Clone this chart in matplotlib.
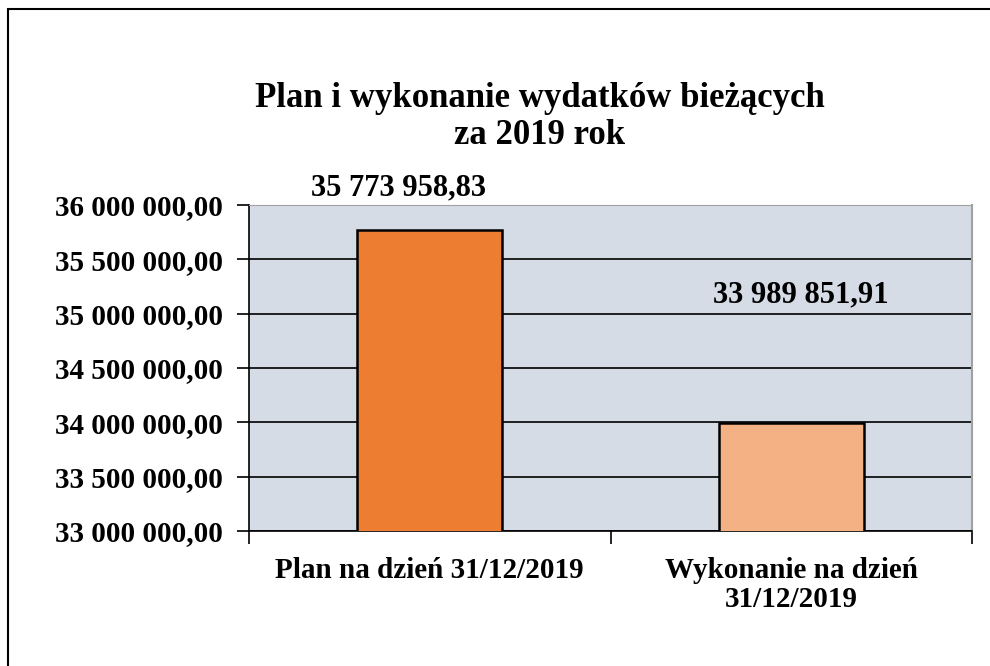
import matplotlib.pyplot as plt
from matplotlib.patches import Rectangle
from matplotlib.ticker import FuncFormatter

plt.rcParams['font.family'] = ['Liberation Serif', 'DejaVu Serif']
plt.rcParams['font.weight'] = 'bold'

categories = ['Plan na dzień 31/12/2019', 'Wykonanie na dzień\n31/12/2019']
values = [35773958.83, 33989851.91]
colors = ['#ED7D31', '#F4B183']
yticks = [33000000, 33500000, 34000000, 34500000, 35000000, 35500000, 36000000]


def pl_format(v, pos=None):
    s = '{:,.2f}'.format(v)
    return s.replace(',', ' ').replace('.', ',')


fig = plt.figure(figsize=(9.9, 6.66), dpi=100)
# outer frame (only top and left edges visible in the original)
fig.patches.append(Rectangle((8 / 990, -0.1), 1.2, 1 - 9 / 666 + 0.1,
                             transform=fig.transFigure, fill=False,
                             edgecolor='black', linewidth=1.5))

ax = fig.add_axes([249 / 990, 1 - 531 / 666, (972 - 249) / 990, (531 - 205) / 666])
ax.set_facecolor('#D6DCE5')

x = list(range(len(values)))
bars = ax.bar(x, values, width=0.4, color=colors, edgecolor='black', linewidth=1.8, zorder=3)

ax.set_ylim(33000000, 36000000)
ax.set_xlim(-0.5, 1.5)
ax.set_yticks(yticks)
ax.yaxis.set_major_formatter(FuncFormatter(pl_format))
ax.grid(axis='y', color='black', linewidth=1.2, zorder=1)
ax.set_axisbelow(True)

ax.set_xticks([-0.5, 0.5, 1.5])
ax.set_xticklabels([])
ax.set_xticks(x, minor=True)
ax.set_xticklabels(categories, minor=True, fontsize=21, fontweight='bold', linespacing=1.1)
ax.tick_params(axis='x', which='minor', length=0, pad=19)
ax.tick_params(axis='x', which='major', length=9, width=1.2, direction='out')
ax.tick_params(axis='y', length=9, width=1.2, direction='out', labelsize=21, pad=10)
for lab in ax.get_yticklabels():
    lab.set_fontweight('bold')

ax.spines['left'].set_color('black')
ax.spines['left'].set_linewidth(1.2)
ax.spines['bottom'].set_color('black')
ax.spines['bottom'].set_linewidth(1.2)
ax.spines['top'].set_color('#A0A0A0')
ax.spines['right'].set_color('#A0A0A0')
ax.spines['right'].set_linewidth(1.5)

# label offsets in pixels (Excel placed them off-centre)
offsets = [(-31, 42), (10, 129)]
for b, v, (dx, dy) in zip(bars, values, offsets):
    ax.annotate(pl_format(v), (b.get_x() + b.get_width() / 2, v),
                xytext=(dx * 0.72, dy * 0.72), textcoords='offset points',
                ha='center', va='center', fontsize=22, fontweight='bold',
                annotation_clip=False)

fig.text(540 / 990, 1 - 117 / 666, 'Plan i wykonanie wydatków bieżących\nza 2019 rok',
         ha='center', va='center', fontsize=25, fontweight='bold', linespacing=1.15)

fig.savefig('out.png', dpi=100)
